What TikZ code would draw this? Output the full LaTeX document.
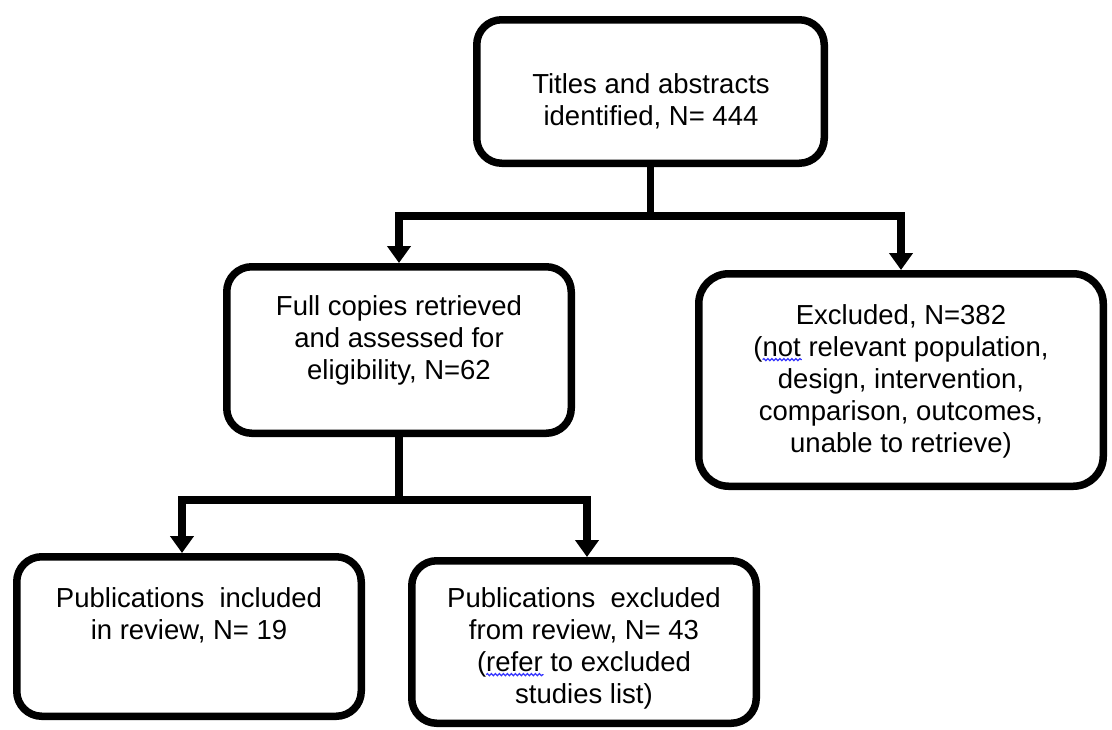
\documentclass[tikz,border=0pt]{standalone}
\usepackage{fontspec}
\setmainfont{Liberation Sans}
\usetikzlibrary{arrows.meta,decorations.pathmorphing}
\newcommand\spellwave[1]{\tikz[baseline=(sw.base)]{\node[inner sep=0pt,outer sep=0pt,anchor=base] (sw) at (0,0) {#1};\draw[overlay,blue!80!white,line width=1.2pt,decorate,decoration={snake,amplitude=1.1pt,segment length=4pt}] ([yshift=-3pt]sw.base west) -- ([yshift=-3pt,xshift=1pt]sw.base east);}}
\begin{document}
\begin{tikzpicture}[x=1pt,y=-1pt,
  box/.style={draw=black,line width=7.5pt,rounded corners=25pt,fill=white,inner sep=0pt},
  txt/.style={align=center,font=\fontsize{27.5}{32}\selectfont,inner sep=0pt,text=black},
  conn/.style={draw=black,line width=7.5pt,-{Triangle[width=23pt,length=17pt]}}]
\useasboundingbox[fill=white] (0,0) rectangle (1112,729);
% boxes
\node[box,minimum width=347.5pt,minimum height=143.5pt] (b1) at (650.5,91.5) {};
\node[box,minimum width=344.5pt,minimum height=166.5pt] (b2) at (399,350) {};
\node[box,rounded corners=30pt,minimum width=404.5pt,minimum height=212.5pt] (b3) at (901,380) {};
\node[box,minimum width=344.5pt,minimum height=159.5pt] (b4) at (189,636.5) {};
\node[box,minimum width=344.5pt,minimum height=162.5pt] (b5) at (584,642) {};
% texts
\node[txt] (t1) at (651,101) {Titles and abstracts\\identified, N= 444};
\node[txt] (t2) at (399,340.5) {Full copies retrieved\\and assessed for\\eligibility, N=62};
\node[txt] (t3) at (901,381.5) {Excluded, N=382\\(\spellwave{not} relevant population,\\design, intervention,\\comparison, outcomes,\\unable to retrieve)};
\node[txt] (t4) at (189,615.5) {Publications\ \ included\\in review, N= 19};
\node[txt] (t5) at (584,648.5) {Publications\ \ excluded\\from review, N= 43\\(\spellwave{refer} to excluded\\studies list)};
% connectors
\draw[conn] (b1.south) -- ++(0,49) coordinate (j1) -| (b2.north);
\draw[conn] (j1) -| (b3.north);
\draw[conn] (b2.south) -- ++(0,63) coordinate (j2) -| ([xshift=-7pt]b4.north);
\draw[conn] (j2) -| ([xshift=3pt]b5.north);
\end{tikzpicture}
\end{document}
